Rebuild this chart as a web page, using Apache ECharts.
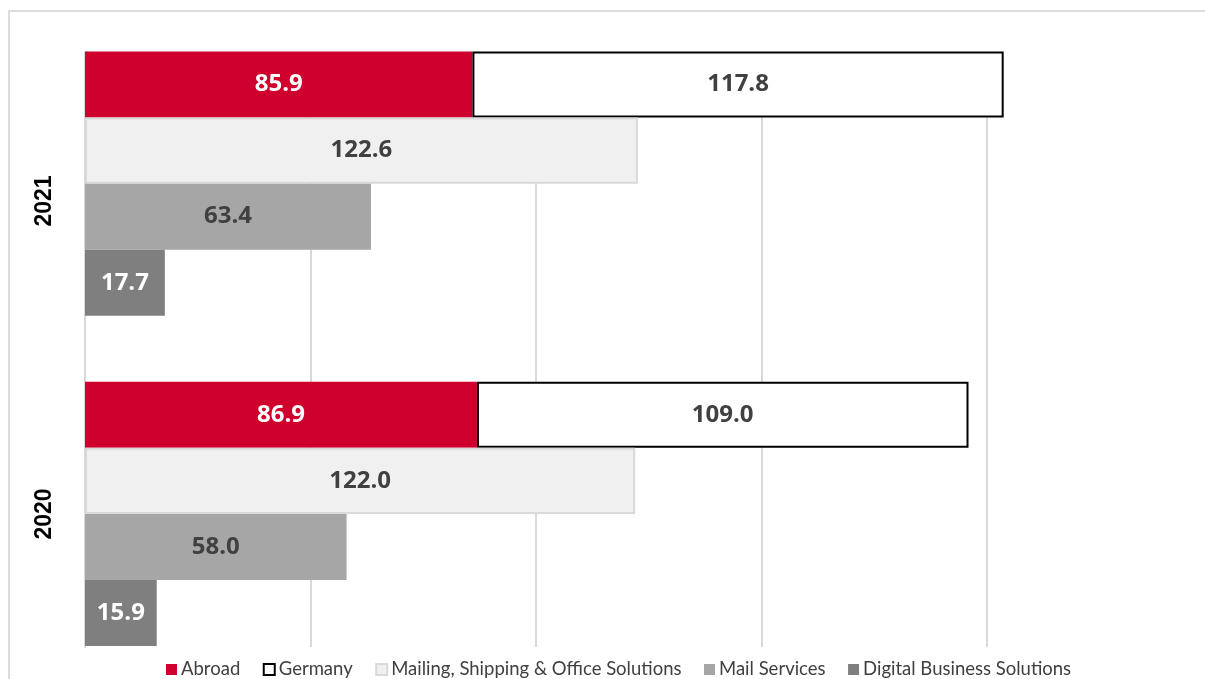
<!DOCTYPE html>
<html><head><meta charset="utf-8">
<script src="https://cdn.jsdelivr.net/npm/echarts@6/dist/echarts.min.js"></script>
<style>html,body{margin:0;padding:0;background:#fff}#c{width:1205px;height:679px}</style>
</head><body><div id="c"></div>
<script>
const years = ['2021', '2020'];
const abroad = [85.9, 86.9];
const germany = [117.8, 109.0];
const mailing = [122.6, 122.0];
const mailServices = [63.4, 58.0];
const digital = [17.7, 15.9];
const seriesNames = ['Abroad', 'Germany', 'Mailing, Shipping & Office Solutions', 'Mail Services', 'Digital Business Solutions'];

const chart = echarts.init(document.getElementById('c'));
const F = 'Lato, "Open Sans", sans-serif';
const FL = '"Open Sans", Lato, sans-serif';
function lbl(color) {
  return { show: true, position: 'inside', color: color, fontFamily: FL, fontWeight: 'bold', fontSize: 24,
    formatter: p => p.value.toFixed(1) };
}
const common = { type: 'bar', xAxisIndex: 1, yAxisIndex: 1, barGap: 0, barCategoryGap: '20%', clip: false };
chart.setOption({
  animation: false,
  graphic: [{ type: 'rect', shape: { x: 9, y: 11, width: 1400, height: 900 }, style: { fill: null, stroke: '#dcdcdc', lineWidth: 2 }, silent: true, z: -10 }],
  grid: [
    { left: 85, top: 52, width: 902, height: 595 },
    { left: 85, top: 18.5, width: 947.1, height: 662 },
    { left: 85, top: 44.5, width: 902, height: 626 }
  ],
  xAxis: [
    { gridIndex: 0, type: 'value', min: 0, max: 200, interval: 50, axisLabel: { show: false }, axisLine: { show: false }, axisTick: { show: false }, splitLine: { show: true, lineStyle: { color: '#d9d9d9', width: 2 } } },
    { gridIndex: 1, type: 'value', min: 0, max: 210, show: false },
    { gridIndex: 2, type: 'value', min: 0, max: 200, show: false }
  ],
  yAxis: [
    { gridIndex: 0, type: 'category', data: years, inverse: true, axisLine: { show: true, lineStyle: { color: '#d9d9d9', width: 2 } }, axisTick: { show: false }, axisLabel: { show: false } },
    { gridIndex: 1, type: 'category', data: years, inverse: true, show: false },
    { gridIndex: 2, type: 'category', data: years, inverse: true, axisLine: { show: false }, axisTick: { show: false },
      axisLabel: { rotate: 90, margin: 29, color: '#000', fontFamily: '"Liberation Sans", Arial, sans-serif', fontWeight: 'bold', fontSize: 23 } }
  ],
  legend: {
    top: 660, left: 166, padding: 0, itemWidth: 11, itemHeight: 11, itemGap: 22.5, icon: 'rect',
    textStyle: { fontFamily: F, fontSize: 18.5, color: '#404040', padding: [0, 0, 0, -1] },
    data: seriesNames
  },
  series: [
    Object.assign({}, common, { name: seriesNames[0], stack: 'total', data: abroad, itemStyle: { color: '#d0002e' }, label: lbl('#fff') }),
    Object.assign({}, common, { name: seriesNames[1], stack: 'total', data: germany, itemStyle: { color: '#fff', borderColor: '#000', borderWidth: 2 }, label: lbl('#404040') }),
    Object.assign({}, common, { name: seriesNames[2], data: mailing, itemStyle: { color: '#f0f0f0', borderColor: '#d9d9d9', borderWidth: 2 }, label: lbl('#404040') }),
    Object.assign({}, common, { name: seriesNames[3], data: mailServices, itemStyle: { color: '#a6a6a6' }, label: lbl('#404040') }),
    Object.assign({}, common, { name: seriesNames[4], data: digital, itemStyle: { color: '#7f7f7f' }, label: lbl('#fff') })
  ]
});
</script></body></html>
